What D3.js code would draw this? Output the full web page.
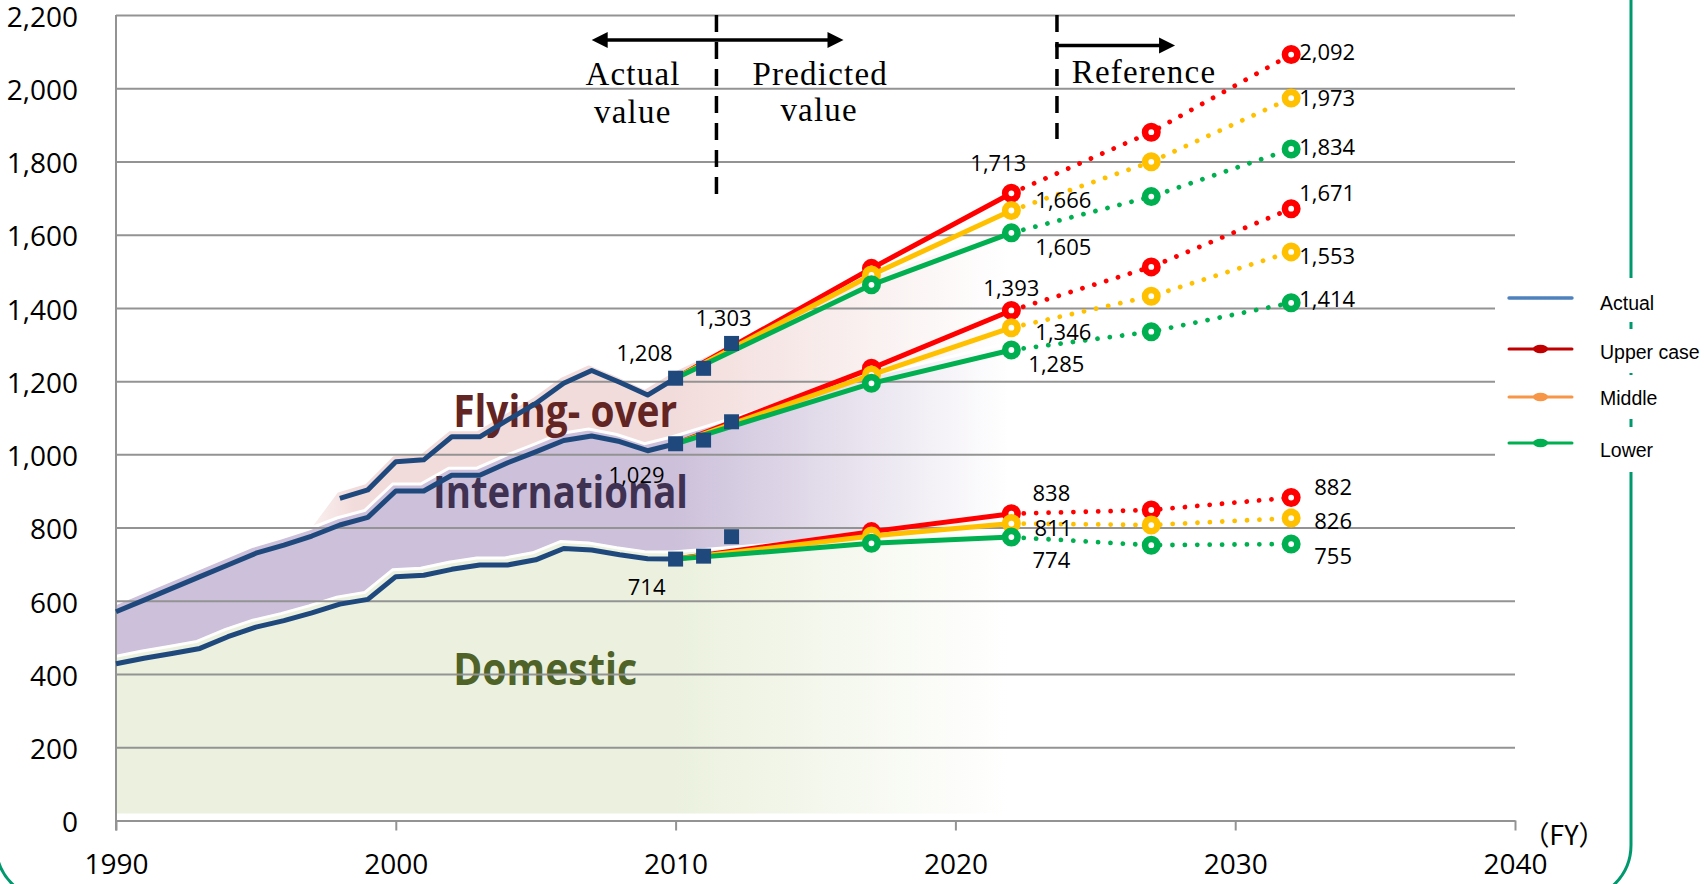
<!DOCTYPE html>
<html>
<head>
<meta charset="utf-8">
<title>Air traffic volume forecast</title>
<script src="https://cdn.jsdelivr.net/npm/d3@7/dist/d3.min.js"></script>
<style>
  html, body { margin: 0; padding: 0; background: #ffffff; }
  svg { display: block; }
</style>
</head>
<body>
<svg id="chart" width="1704" height="884"></svg>
<script>
// ---------- data: flights (thousands) by fiscal year ----------
const actualYears    = [1990, 1991, 1992, 1993, 1994, 1995, 1996, 1997, 1998, 1999, 2000,
                        2001, 2002, 2003, 2004, 2005, 2006, 2007, 2008, 2009, 2010];
const domesticActual = [428, 443, 456, 470, 502, 528, 546, 567, 591, 604, 666,
                        670, 686, 698, 698, 712, 743, 739, 726, 715, 714];
// domestic + international
const intlActual     = [570, 602, 634, 666, 698, 730, 752, 777, 807, 828, 900,
                        900, 943, 943, 977, 1007, 1038, 1050, 1035, 1010, 1029];
// domestic + international + flying-over
const overYears      = [1998, 1999, 2000, 2001, 2002, 2003, 2004, 2005, 2006, 2007, 2008, 2009, 2010];
const overActual     = [880, 903, 980, 985, 1048, 1048, 1094, 1139, 1194, 1229, 1197, 1162, 1208];

const squareYears    = [2010, 2011, 2012];
const squareDomestic = [714, 722, 775];
const squareIntl     = [1029, 1039, 1089];
const squareOver     = [1208, 1235, 1303];

// forecast cases (first value = 2010 actual)
const caseYears   = [2010, 2017, 2022, 2027, 2032];
const overUpper   = [1208, 1508, 1713, 1880, 2092];
const overMiddle  = [1208, 1490, 1666, 1799, 1973];
const overLower   = [1208, 1463, 1605, 1704, 1834];
const intlUpper   = [1029, 1235, 1393, 1512, 1671];
const intlMiddle  = [1029, 1217, 1346, 1432, 1553];
const intlLower   = [1029, 1194, 1285, 1335, 1414];
const domUpper    = [714, 789, 838, 848, 882];
const domMiddle   = [714, 777, 811, 807, 826];
const domLower    = [714, 757, 774, 752, 755];

const yTicks = [0, 200, 400, 600, 800, 1000, 1200, 1400, 1600, 1800, 2000, 2200];
const xTicks = [1990, 2000, 2010, 2020, 2030, 2040];
const legendLabels = ["Actual", "Upper case", "Middle", "Lower"];
const regionLabels = ["Flying- over", "International", "Domestic"];

// ---------- setup ----------
const svg = d3.select("#chart");
const x = d3.scaleLinear().domain([1990, 2040]).range([116, 1515]);
const y = d3.scaleLinear().domain([0, 2200]).range([820.5, 15]);
const fmt = d3.format(",");
const caseColor = { upper: "#ff0000", middle: "#ffc000", lower: "#00b050" };
const navy = "#1f497d";
const gridColor = "#939393";

// outer rounded frame
svg.append("rect")
  .attr("x", -4).attr("y", -200).attr("width", 1635).attr("height", 1100)
  .attr("rx", 55).attr("ry", 55)
  .attr("fill", "none").attr("stroke", "#00996e").attr("stroke-width", 3);

// ---------- stacked background bands ----------
const defs = svg.append("defs");
defs.append("clipPath").attr("id", "plotClip")
  .append("rect").attr("x", x(1990)).attr("y", y(2200))
  .attr("width", x(2040) - x(1990)).attr("height", y(0) - y(2200));

function fadeGradient(id, color, stops) {
  const g = defs.append("linearGradient").attr("id", id)
    .attr("gradientUnits", "userSpaceOnUse")
    .attr("x1", x(1990)).attr("x2", x(2022)).attr("y1", 0).attr("y2", 0);
  stops.forEach(([yr, op]) => g.append("stop")
    .attr("offset", (yr - 1990) / (2022 - 1990))
    .attr("stop-color", color).attr("stop-opacity", op));
}
fadeGradient("gDom", "#ebf1de", [[1990, 1], [2010, 1], [2022, 0]]);
fadeGradient("gIntl", "#ccc0da", [[1990, 1], [2010, 1], [2022, 0]]);
fadeGradient("gOver", "#f2dcdb", [[1996, 0], [1998.6, 1], [2010, 1], [2022, 0]]);

// band tops follow the actual record, then the lower forecast case
const bandYears = actualYears.concat([caseYears[1], caseYears[2]]);
const domTop = domesticActual.concat([domLower[1], domLower[2]]);
const intlTop = intlActual.concat([intlLower[1], intlLower[2]]);
const overTopMap = new Map(overYears.map((yr, i) => [yr, overActual[i]]));
overTopMap.set(caseYears[1], overLower[1]);
overTopMap.set(caseYears[2], overLower[2]);

const bands = bandYears.map((yr, i) => ({
  year: yr,
  dom: domTop[i],
  intl: intlTop[i],
  over: overTopMap.has(yr) ? overTopMap.get(yr) : intlTop[i]
}));

const bandLayer = svg.append("g").attr("clip-path", "url(#plotClip)")
  .append("g").attr("transform", "translate(-3,-7)");

const areaGen = (lo, hi) => d3.area().x(d => x(d.year)).y0(d => y(lo(d))).y1(d => y(hi(d)));
const edgeGen = hi => d3.line().x(d => x(d.year)).y(d => y(hi(d)));

bandLayer.append("path").datum(bands)
  .attr("d", areaGen(() => 0, d => d.dom)).attr("fill", "url(#gDom)");
bandLayer.append("path").datum(bands)
  .attr("d", areaGen(d => d.dom, d => d.intl)).attr("fill", "url(#gIntl)");
const overBands = bands.filter(d => d.year >= 1997);
bandLayer.append("path").datum(overBands)
  .attr("d", areaGen(d => d.intl, d => d.over)).attr("fill", "url(#gOver)");
[d => d.dom, d => d.intl].forEach(hi => bandLayer.append("path").datum(bands)
  .attr("d", edgeGen(hi)).attr("fill", "none")
  .attr("stroke", "#ffffff").attr("stroke-width", 3));
bandLayer.append("path").datum(overBands)
  .attr("d", edgeGen(d => d.over)).attr("fill", "none")
  .attr("stroke", "#ffffff").attr("stroke-width", 3);

// region names
const regionStyle = [
  { year: 2002.05, value: 1075, width: 224, color: "#632523" },
  { year: 2001.33, value: 853, width: 255, color: "#3f3151" },
  { year: 2002.05, value: 370, width: 184, color: "#4f6228" }
];
regionLabels.forEach((t, i) => {
  const s = regionStyle[i];
  svg.append("text")
    .attr("x", x(s.year)).attr("y", y(s.value))
    .attr("font-family", "'Open Sans', sans-serif").attr("font-weight", 700)
    .attr("font-size", 44).attr("fill", s.color)
    .attr("textLength", s.width).attr("lengthAdjust", "spacingAndGlyphs")
    .text(t);
});

// ---------- axes & grid ----------
const yAxis = svg.append("g").attr("transform", `translate(${x(1990)},0)`)
  .call(d3.axisLeft(y).tickValues(yTicks).tickSize(-(x(2040) - x(1990)))
    .tickSizeOuter(0).tickPadding(38).tickFormat(fmt));
yAxis.select(".domain").remove();
yAxis.selectAll(".tick line").attr("stroke", gridColor).attr("stroke-width", 2);
yAxis.selectAll(".tick text")
  .attr("font-family", "'Open Sans', sans-serif").attr("font-size", 28)
  .attr("fill", "#000").attr("dy", "0.4em");

const xAxis = svg.append("g").attr("transform", `translate(0,${y(0)})`)
  .call(d3.axisBottom(x).tickValues(xTicks).tickSize(10).tickSizeOuter(0)
    .tickPadding(24).tickFormat(d3.format("d")));
xAxis.select(".domain").attr("stroke", gridColor).attr("stroke-width", 2);
xAxis.selectAll(".tick line").attr("stroke", gridColor).attr("stroke-width", 2);
xAxis.selectAll(".tick text")
  .attr("font-family", "'Open Sans', sans-serif").attr("font-size", 28).attr("fill", "#000");

svg.append("line")
  .attr("x1", x(1990)).attr("x2", x(1990)).attr("y1", y(2200)).attr("y2", y(0) + 10)
  .attr("stroke", gridColor).attr("stroke-width", 2);

// ---------- period annotations ----------
const ann = svg.append("g");
function vDash(year, y2) {
  ann.append("line").attr("x1", x(year)).attr("x2", x(year))
    .attr("y1", 15).attr("y2", y2)
    .attr("stroke", "#000").attr("stroke-width", 3.5).attr("stroke-dasharray", "17 10");
}
vDash(2011.46, 202);
vDash(2023.63, 139);

function arrowHead(tipX, tipY, dir, len, half) {
  const p = d3.path();
  p.moveTo(tipX, tipY);
  p.lineTo(tipX - dir * len, tipY - half);
  p.lineTo(tipX - dir * len, tipY + half);
  p.closePath();
  ann.append("path").attr("d", p.toString()).attr("fill", "#000");
}
// actual <-> predicted
ann.append("line").attr("x1", x(2007) + 10).attr("x2", x(2016) - 10)
  .attr("y1", 40).attr("y2", 40).attr("stroke", "#000").attr("stroke-width", 3.5);
arrowHead(x(2007), 40, -1, 16, 8);
arrowHead(x(2016), 40, 1, 16, 8);
// reference ->
ann.append("line").attr("x1", x(2023.63) - 1.75).attr("x2", x(2027.85) - 10)
  .attr("y1", 45.5).attr("y2", 45.5).attr("stroke", "#000").attr("stroke-width", 3.5);
arrowHead(x(2027.85), 45.5, 1, 16, 8);

const serif = [
  { t: "Actual", yr: 2008.48, yy: 85 },
  { t: "value", yr: 2008.47, yy: 123 },
  { t: "Predicted", yr: 2015.17, yy: 85 },
  { t: "value", yr: 2015.13, yy: 121 },
  { t: "Reference", yr: 2026.74, yy: 83 }
];
serif.forEach(s => ann.append("text")
  .attr("x", x(s.yr)).attr("y", s.yy).attr("text-anchor", "middle")
  .attr("font-family", "'Liberation Serif', serif").attr("font-size", 33)
  .attr("letter-spacing", 1.2).attr("fill", "#000").text(s.t));

// ---------- forecast cases ----------
const groups = [
  { upper: overUpper, middle: overMiddle, lower: overLower },
  { upper: intlUpper, middle: intlMiddle, lower: intlLower },
  { upper: domUpper, middle: domMiddle, lower: domLower }
];
const solidLine = d3.line().x(d => x(d[0])).y(d => y(d[1]));
const caseLayer = svg.append("g");
["upper", "middle", "lower"].forEach(key => {
  groups.forEach(gr => {
    const pts = caseYears.map((yr, i) => [yr, gr[key][i]]);
    caseLayer.append("path").attr("d", solidLine(pts.slice(0, 3)))
      .attr("fill", "none").attr("stroke", caseColor[key]).attr("stroke-width", 5)
      .attr("stroke-linejoin", "round");
    caseLayer.append("path").attr("d", solidLine(pts.slice(2)))
      .attr("fill", "none").attr("stroke", caseColor[key]).attr("stroke-width", 4.8)
      .attr("stroke-linecap", "round").attr("stroke-dasharray", "0.01 12.4");
    caseLayer.selectAll(null).data(pts.slice(1)).join("circle")
      .attr("cx", d => x(d[0])).attr("cy", d => y(d[1])).attr("r", 6.2)
      .attr("fill", "#ffffff").attr("stroke", caseColor[key]).attr("stroke-width", 6.6);
  });
});

// ---------- actual series ----------
const act = svg.append("g");
const actLine = d3.line().x(d => x(d[0])).y(d => y(d[1]));
[
  actualYears.map((yr, i) => [yr, domesticActual[i]]),
  actualYears.map((yr, i) => [yr, intlActual[i]]),
  overYears.map((yr, i) => [yr, overActual[i]])
].forEach(pts => act.append("path").attr("d", actLine(pts))
  .attr("fill", "none").attr("stroke", navy).attr("stroke-width", 5)
  .attr("stroke-linejoin", "round"));
[squareDomestic, squareIntl, squareOver].forEach(vals => {
  act.selectAll(null).data(squareYears.map((yr, i) => [yr, vals[i]])).join("rect")
    .attr("x", d => x(d[0]) - 7.5).attr("y", d => y(d[1]) - 7.5)
    .attr("width", 15).attr("height", 15).attr("fill", navy);
});

// ---------- value labels ----------
const lab = svg.append("g")
  .attr("font-family", "'Open Sans', sans-serif").attr("font-size", 22).attr("fill", "#000")
  .attr("text-anchor", "middle");
function valueLabel(year, value, dx, dy) {
  lab.append("text").attr("x", x(year) + dx).attr("y", y(value) + dy + 8).text(fmt(value));
}
valueLabel(squareYears[0], squareOver[0], -31, -25);
valueLabel(squareYears[2], squareOver[2], -8, -25);
valueLabel(squareYears[0], squareIntl[0], -39, 31);
valueLabel(squareYears[0], squareDomestic[0], -29, 28);

// label offsets: [2022 dx, 2022 dy, 2032 dx, 2032 dy]
const labelPlacement = [
  { upper: [-13, -30, 36, -2.5], middle: [52, -10.5, 36, 0], lower: [52, 14, 36, -2] },
  { upper: [0, -22.5, 36, -16], middle: [52, 4, 36, 4], lower: [45, 14, 36, -4] },
  { upper: [40, -21, 42, -10.5], middle: [42, 4.5, 42, 3], lower: [40, 23, 42, 12] }
];
groups.forEach((gr, gi) => {
  ["upper", "middle", "lower"].forEach(key => {
    const p = labelPlacement[gi][key];
    valueLabel(caseYears[2], gr[key][2], p[0], p[1]);
    valueLabel(caseYears[4], gr[key][4], p[2], p[3]);
  });
});

// ---------- legend ----------
const legendRows = [
  { top: 278, bottom: 322, line: 298, text: 310 },
  { top: 329, bottom: 373, line: 349, text: 359 },
  { top: 375, bottom: 419, line: 397, text: 404.5 },
  { top: 427, bottom: 472, line: 443, text: 457 }
];
const legendColors = [
  { stroke: "#4f81bd", marker: null },
  { stroke: "#c00000", marker: "#c00000" },
  { stroke: "#f79646", marker: "#f79646" },
  { stroke: "#00b050", marker: "#00b050" }
];
const leg = svg.append("g");
legendLabels.forEach((t, i) => {
  const r = legendRows[i], c = legendColors[i];
  leg.append("rect").attr("x", 1495).attr("y", r.top)
    .attr("width", 1704 - 1495).attr("height", r.bottom - r.top).attr("fill", "#ffffff");
  leg.append("line").attr("x1", 1509).attr("x2", 1572).attr("y1", r.line).attr("y2", r.line)
    .attr("stroke", c.stroke).attr("stroke-width", i === 0 ? 3.4 : 3).attr("stroke-linecap", "round");
  if (c.marker) {
    leg.append("ellipse").attr("cx", 1540.5).attr("cy", r.line).attr("rx", 7.5).attr("ry", 4.2)
      .attr("fill", c.marker);
  }
  leg.append("text").attr("x", 1600).attr("y", r.text)
    .attr("font-family", "'Liberation Sans', Arial, sans-serif").attr("font-size", 19.5)
    .attr("fill", "#000").text(t);
});

// fiscal-year unit
svg.append("text").attr("x", 1564).attr("y", 845).attr("text-anchor", "middle")
  .attr("font-family", "'Noto Sans CJK JP', sans-serif").attr("font-size", 27)
  .attr("fill", "#000").text("（FY）");
</script>
</body>
</html>
